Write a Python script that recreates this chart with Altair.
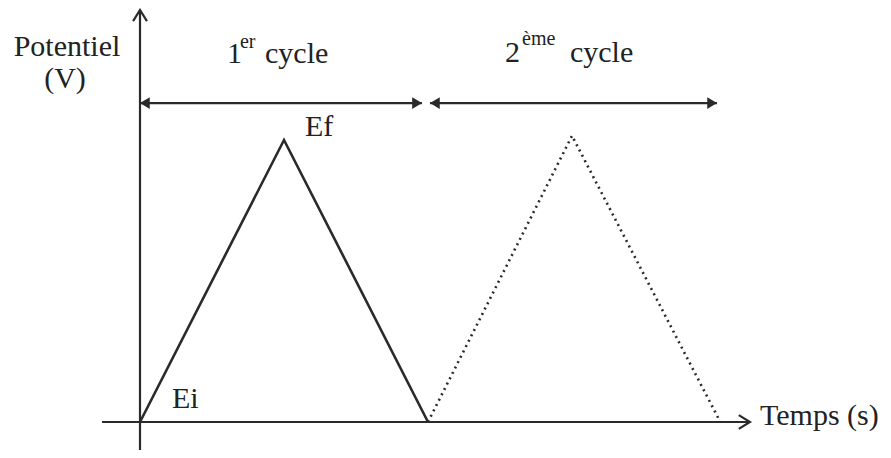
import altair as alt
import pandas as pd

# ---- data (time in arbitrary units, potential in units of Ef) ----
cycle1_t = [0.0, 1.0, 2.0]
cycle1_E = [0.0, 1.0, 0.0]
cycle2_t = [2.0, 3.0, 4.03]
cycle2_E = [0.0, 1.015, 0.0]

# axis extents
xaxis_t = [-0.264, 4.236]
yaxis_E = [-0.099, 1.461]

# cycle span arrows
span_start = [0.0, 2.014]
span_end = [1.958, 4.007]
span_level = 1.131

# text labels
big_text = ["Potentiel", "(V)", "1", "cycle", "2", "cycle", "Ef", "Ei", "Temps (s)"]
big_t = [-0.507, -0.521, 0.604, 0.868, 2.535, 2.986, 1.146, 0.222, 4.306]
big_E = [1.298, 1.184, 1.273, 1.273, 1.277, 1.277, 1.014, 0.0496, -0.0106]
big_align = ["center", "center", "left", "left", "left", "left", "left", "left", "left"]
sup_text = ["er", "ème"]
sup_t = [0.694, 2.653]
sup_E = [1.326, 1.337]

FONT = "Tinos, Liberation Serif, Times New Roman, DejaVu Serif, serif"
INK = "#2a2a2a"

xs = alt.Scale(domain=[-0.9167, 5.1597], nice=False, zero=False)
ys = alt.Scale(domain=[-0.0993, 1.4681], nice=False, zero=False)


def X(f="t"):
    return alt.X(f"{f}:Q", scale=xs, axis=None)


def Y(f="E"):
    return alt.Y(f"{f}:Q", scale=ys, axis=None)


c1 = pd.DataFrame({"t": cycle1_t, "E": cycle1_E, "o": range(3)})
c2 = pd.DataFrame({"t": cycle2_t, "E": cycle2_E, "o": range(3)})

solid = alt.Chart(c1).mark_line(color=INK, strokeWidth=2.6).encode(
    x=X(), y=Y(), order="o:O")
dotted = alt.Chart(c2).mark_line(color=INK, strokeWidth=2.6, strokeDash=[2, 4]).encode(
    x=X(), y=Y(), order="o:O")

hax = pd.DataFrame({"t": [xaxis_t[0]], "t2": [xaxis_t[1]], "E": [0.0]})
vax = pd.DataFrame({"t": [0.0], "E": [yaxis_E[0]], "E2": [yaxis_E[1]]})
h_rule = alt.Chart(hax).mark_rule(color=INK, strokeWidth=2.2).encode(
    x=X(), x2="t2:Q", y=Y())
v_rule = alt.Chart(vax).mark_rule(color=INK, strokeWidth=2.2).encode(
    x=X(), y=Y(), y2="E2:Q")

spans = pd.DataFrame({"t": span_start, "t2": span_end, "E": [span_level] * 2})
span_rules = alt.Chart(spans).mark_rule(color=INK, strokeWidth=2.2).encode(
    x=X(), x2="t2:Q", y=Y())

RIGHT_OPEN = "M -1 -0.62 L 0 0 L -1 0.62"
UP_OPEN = "M -0.62 1 L 0 0 L 0.62 1"
RIGHT_FILL = "M 0 0 L -1 -0.6 L -1 0.6 Z"
LEFT_FILL = "M 0 0 L 1 -0.6 L 1 0.6 Z"

open_heads = pd.DataFrame({
    "t": [xaxis_t[1], 0.0],
    "E": [0.0, yaxis_E[1]],
    "shape": [RIGHT_OPEN, UP_OPEN],
})
open_arrows = alt.Chart(open_heads).mark_point(
    filled=False, stroke=INK, strokeWidth=2.2, size=500, opacity=1
).encode(x=X(), y=Y(), shape=alt.Shape("shape:N", scale=None))

fill_heads = pd.DataFrame({
    "t": [span_start[0], span_end[0], span_start[1], span_end[1]],
    "E": [span_level] * 4,
    "shape": [LEFT_FILL, RIGHT_FILL, LEFT_FILL, RIGHT_FILL],
})
fill_arrows = alt.Chart(fill_heads).mark_point(
    filled=True, color=INK, size=380, opacity=1
).encode(x=X(), y=Y(), shape=alt.Shape("shape:N", scale=None))

big = pd.DataFrame({"t": big_t, "E": big_E, "label": big_text, "align": big_align})
big_left = alt.Chart(big[big["align"] == "left"]).mark_text(
    font=FONT, fontSize=30, align="left", baseline="alphabetic", color="#222222"
).encode(x=X(), y=Y(), text="label:N")
big_center = alt.Chart(big[big["align"] == "center"]).mark_text(
    font=FONT, fontSize=30, align="center", baseline="alphabetic", color="#222222"
).encode(x=X(), y=Y(), text="label:N")

sup = pd.DataFrame({"t": sup_t, "E": sup_E, "label": sup_text})
sup_marks = alt.Chart(sup).mark_text(
    font=FONT, fontSize=20, align="left", baseline="alphabetic", color="#222222"
).encode(x=X(), y=Y(), text="label:N")

chart = alt.layer(
    h_rule, v_rule, span_rules, solid, dotted,
    open_arrows, fill_arrows, big_left, big_center, sup_marks
).properties(
    width=875, height=442,
    autosize=alt.AutoSizeParams(type="none"),
    padding=0,
    background="white",
).configure_view(stroke=None)

chart.save("out.html", embed_options={"renderer": "svg", "actions": False})
